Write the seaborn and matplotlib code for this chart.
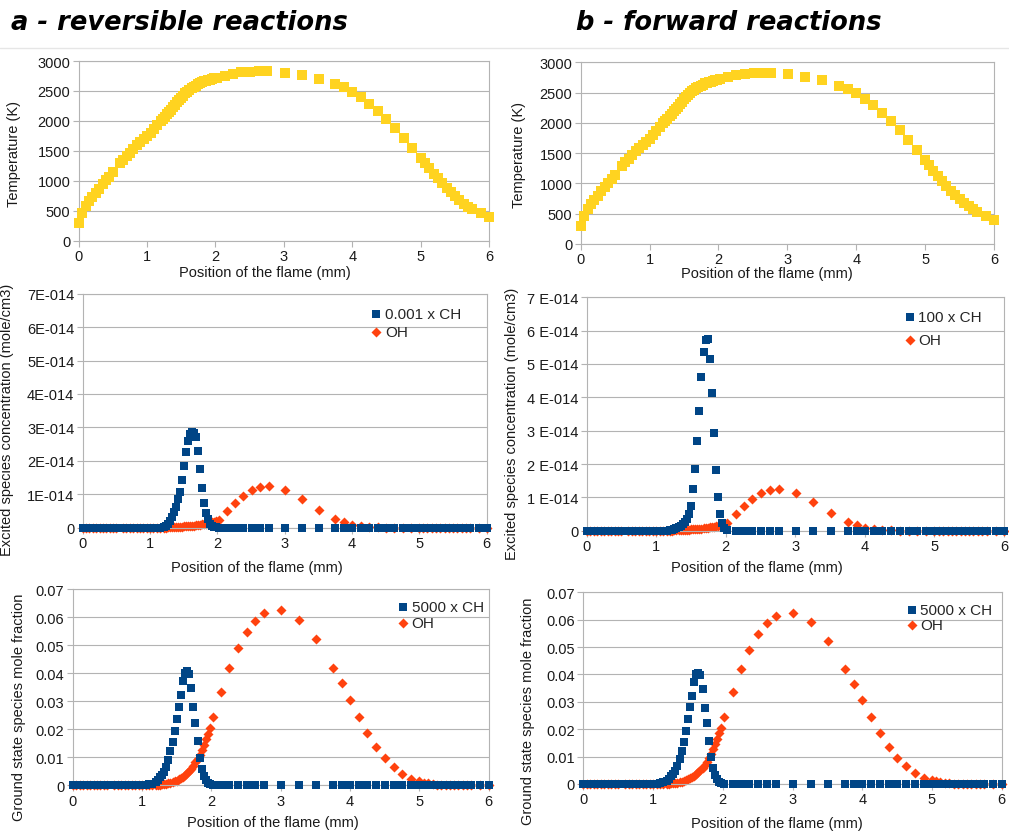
import matplotlib.pyplot as plt
import matplotlib.ticker as mticker
import seaborn as sns

# Flame positions (mm), shared by every series
x_mm = [0.0, 0.05, 0.1, 0.15, 0.2, 0.25, 0.3, 0.35, 0.4, 0.45, 0.5,
        0.6, 0.65, 0.7, 0.75, 0.8, 0.85, 0.9, 0.95, 1.0, 1.05, 1.1, 1.15, 1.2,
        1.23, 1.26, 1.29, 1.32, 1.35, 1.38, 1.41, 1.44, 1.47, 1.5, 1.53, 1.56, 1.59,
        1.62, 1.65, 1.68, 1.71, 1.74, 1.77, 1.8, 1.83, 1.86, 1.89, 1.92, 1.95, 1.98,
        2.02, 2.14, 2.26, 2.38, 2.51, 2.63, 2.76, 3.01, 3.26, 3.51, 3.75, 3.88, 4.0,
        4.13, 4.25, 4.38, 4.5, 4.63, 4.75, 4.88, 5.0,
        5.06, 5.12, 5.19, 5.25, 5.31, 5.38, 5.44, 5.5, 5.56, 5.63, 5.69, 5.75, 5.88, 6.0]

temperature_k = [300, 470, 580, 660, 730, 800, 870, 940, 1010, 1070, 1140,
                 1290, 1350, 1410, 1470, 1530, 1590, 1640, 1690, 1740, 1800, 1860, 1930, 2000,
                 2030, 2070, 2110, 2150, 2190, 2230, 2270, 2310, 2350, 2390, 2420, 2460, 2490,
                 2520, 2550, 2570, 2590, 2610, 2630, 2650, 2660, 2670, 2680, 2690, 2700, 2710,
                 2720, 2750, 2790, 2810, 2820, 2825, 2825, 2800, 2760, 2700, 2610, 2560, 2490,
                 2400, 2290, 2170, 2030, 1880, 1720, 1550, 1380,
                 1300, 1210, 1120, 1040, 960, 880, 810, 740, 680, 620, 570, 530, 470, 400]

# Excited species, in units of 1E-014 mole/cm3
ch_excited_rev = [0, 0, 0, 0, 0, 0, 0, 0, 0, 0, 0,
                  0, 0, 0, 0, 0, 0, 0, 0, 0, 0, 0, 0, 0.02,
                  0.05, 0.1, 0.2, 0.33, 0.48, 0.62, 0.85, 1.08, 1.44, 1.84, 2.26, 2.59, 2.8,
                  2.86, 2.84, 2.7, 2.3, 1.75, 1.2, 0.75, 0.45, 0.25, 0.12, 0.06, 0.02, 0.01,
                  0, 0, 0, 0, 0, 0, 0, 0, 0, 0, 0, 0, 0,
                  0, 0, 0, 0, 0, 0, 0, 0,
                  0, 0, 0, 0, 0, 0, 0, 0, 0, 0, 0, 0, 0, 0]
ch_excited_fwd = [0, 0, 0, 0, 0, 0, 0, 0, 0, 0, 0,
                  0, 0, 0, 0, 0, 0, 0, 0, 0, 0, 0, 0, 0.02,
                  0.03, 0.05, 0.07, 0.1, 0.14, 0.19, 0.26, 0.35, 0.5, 0.75, 1.25, 1.85, 2.7,
                  3.6, 4.6, 5.35, 5.73, 5.75, 5.15, 4.12, 2.93, 1.83, 1.01, 0.5, 0.22, 0.09,
                  0.03, 0, 0, 0, 0, 0, 0, 0, 0, 0, 0, 0, 0,
                  0, 0, 0, 0, 0, 0, 0, 0,
                  0, 0, 0, 0, 0, 0, 0, 0, 0, 0, 0, 0, 0, 0]
oh_excited = [0, 0, 0, 0, 0, 0, 0, 0, 0, 0, 0,
              0, 0, 0, 0, 0, 0, 0, 0, 0, 0, 0, 0, 0,
              0.005, 0.01, 0.012, 0.015, 0.02, 0.022, 0.025, 0.03, 0.035, 0.04, 0.045, 0.05, 0.055,
              0.06, 0.065, 0.075, 0.08, 0.09, 0.1, 0.11, 0.12, 0.13, 0.145, 0.16, 0.18, 0.2,
              0.24, 0.49, 0.73, 0.96, 1.14, 1.22, 1.26, 1.14, 0.86, 0.53, 0.26, 0.16, 0.09,
              0.04, 0.02, 0.01, 0.005, 0, 0, 0, 0,
              0, 0, 0, 0, 0, 0, 0, 0, 0, 0, 0, 0, 0, 0]

# Ground state mole fractions
ch_ground = [0, 0, 0, 0, 0, 0, 0, 0, 0, 0, 0,
             0, 0, 0, 0, 0, 0, 0, 0, 0, 0.0001, 0.0003, 0.0006, 0.0012,
             0.002, 0.0028, 0.0036, 0.0046, 0.0065, 0.0092, 0.0122, 0.0155, 0.0193, 0.0238,
             0.028, 0.0322, 0.0372, 0.0402, 0.0407, 0.0398, 0.0346, 0.0278, 0.0222, 0.0158,
             0.0098, 0.0058, 0.0034, 0.0018, 0.0009, 0.0004,
             0.0001, 0, 0, 0, 0, 0, 0, 0, 0, 0, 0, 0, 0,
             0, 0, 0, 0, 0, 0, 0, 0,
             0, 0, 0, 0, 0, 0, 0, 0, 0, 0, 0, 0, 0, 0]
oh_ground = [0, 0, 0, 0, 0, 0, 0, 0, 0, 0, 0,
             0, 0, 0, 0, 0, 0, 0, 0, 0, 0, 0, 0, 0,
             0.0001, 0.0002, 0.0003, 0.0004, 0.0005, 0.0007, 0.0009, 0.0011, 0.0014, 0.0017,
             0.0021, 0.0025, 0.003, 0.0036, 0.0043, 0.0051, 0.006, 0.007, 0.0082, 0.0095,
             0.011, 0.0126, 0.0145, 0.0165, 0.0185, 0.0205,
             0.0245, 0.0335, 0.042, 0.049, 0.0546, 0.0588, 0.0614, 0.0626, 0.0592, 0.0521,
             0.042, 0.0364, 0.0305, 0.0243, 0.0186, 0.0136, 0.0096, 0.0064, 0.004, 0.0023, 0.0014,
             0.001, 0.0007, 0.0004, 0.0002, 0.0001, 0, 0, 0, 0, 0, 0, 0, 0, 0]

BLUE, ORANGE, YELLOW, GRID = "#004586", "#ff420e", "#ffd320", "#b3b3b3"
XLABEL = "Position of the flame (mm)"

sns.set_theme(style="whitegrid")
plt.rcParams['font.family'] = ['Liberation Sans', 'DejaVu Sans']

W, H = 1009, 837
fig = plt.figure(figsize=(W / 100, H / 100), dpi=100)


def px_axes(l, r, t, b):
    return fig.add_axes([l / W, 1 - b / H, (r - l) / W, (b - t) / H])


def style(ax, ymax, ystep, xlab_pos, ylab_pos, ylabel, fmt=None):
    ax.set_xlim(0, 6)
    ax.set_ylim(0, ymax)
    ax.set_xticks(range(7))
    ax.set_yticks([i * ystep for i in range(int(round(ymax / ystep)) + 1)])
    if fmt is not None:
        ax.yaxis.set_major_formatter(mticker.FuncFormatter(fmt))
    ax.grid(axis='y', color=GRID, lw=0.8)
    ax.grid(axis='x', visible=False)
    for sp in ax.spines.values():
        sp.set_color(GRID)
        sp.set_linewidth(0.8)
    ax.tick_params(axis='both', which='both', length=4, width=0.8, color=GRID,
                   labelsize=10.5, labelcolor="#1a1a1a", pad=2, bottom=True, left=True)
    ax.set_xlabel(XLABEL, fontsize=10.5, color="#1a1a1a")
    ax.set_ylabel(ylabel, fontsize=10.5, color="#1a1a1a")
    ax.xaxis.set_label_coords(xlab_pos[0] / W, 1 - xlab_pos[1] / H, transform=fig.transFigure)
    ax.yaxis.set_label_coords(ylab_pos[0] / W, 1 - ylab_pos[1] / H, transform=fig.transFigure)
    ax.xaxis.label.set_va('center')
    ax.yaxis.label.set_va('center')


def legend(ax, x, y, spacing):
    ax.legend(loc='upper left', bbox_to_anchor=(x, y), frameon=False, fontsize=11,
              borderpad=0, borderaxespad=0, handlelength=0.8, handletextpad=0.15,
              labelspacing=spacing)


fmt_a = lambda v, p: "0" if v == 0 else f"{v:.0f}E-014"
fmt_b = lambda v, p: "0" if v == 0 else f"{v:.0f} E-014"
fmt_g = lambda v, p: "0" if v == 0 else f"{v:.2f}"

panels = [
    dict(temp=(78.7, 489, 62, 241.7), exc=(82.7, 486.7, 294.7, 528.7), gnd=(72.7, 488.7, 590.3, 786.3),
         ch_exc=ch_excited_rev, ch_lab="0.001 x CH", fmt=fmt_a,
         t_xl=(265, 273), t_yl=(14, 154), e_xl=(257, 568), e_yl=(7, 420), g_xl=(273, 823), g_yl=(19, 707),
         e_leg=(0.712, 0.945, 0.3), g_leg=(0.78, 0.945, 0.1)),
    dict(temp=(580.7, 994, 63.3, 245), exc=(586.7, 1004, 298.3, 531.7), gnd=(583.3, 1001.7, 593.3, 785),
         ch_exc=ch_excited_fwd, ch_lab="100 x CH", fmt=fmt_b,
         t_xl=(767, 274), t_yl=(519, 155), e_xl=(757, 568), e_yl=(512, 424), g_xl=(777, 824), g_yl=(528, 711),
         e_leg=(0.76, 0.945, 0.55), g_leg=(0.77, 0.945, 0.1)),
]

for p in panels:
    ax = px_axes(*p['temp'])
    sns.scatterplot(x=x_mm, y=temperature_k, marker='s', color=YELLOW, s=46, linewidth=0,
                    ax=ax, clip_on=False, zorder=3)
    style(ax, 3000, 500, p['t_xl'], p['t_yl'], "Temperature (K)")

    ax = px_axes(*p['exc'])
    sns.scatterplot(x=x_mm, y=p['ch_exc'], marker='s', color=BLUE, s=38, linewidth=0,
                    ax=ax, clip_on=False, zorder=3, label=p['ch_lab'])
    sns.scatterplot(x=x_mm, y=oh_excited, marker='D', color=ORANGE, s=26, linewidth=0,
                    ax=ax, clip_on=False, zorder=2, label="OH")
    style(ax, 7, 1, p['e_xl'], p['e_yl'], "Excited species concentration (mole/cm3)", p['fmt'])
    legend(ax, *p['e_leg'])

    ax = px_axes(*p['gnd'])
    sns.scatterplot(x=x_mm, y=ch_ground, marker='s', color=BLUE, s=38, linewidth=0,
                    ax=ax, clip_on=False, zorder=3, label="5000 x CH")
    sns.scatterplot(x=x_mm, y=oh_ground, marker='D', color=ORANGE, s=26, linewidth=0,
                    ax=ax, clip_on=False, zorder=2, label="OH")
    style(ax, 0.07, 0.01, p['g_xl'], p['g_yl'], "Ground state species mole fraction", fmt_g)
    legend(ax, *p['g_leg'])

title_font = dict(family='DejaVu Sans', weight='bold', style='italic', fontsize=18.5,
                  va='center', color='black')
fig.text(11 / W, 1 - 23 / H, "a - reversible reactions", **title_font)
fig.text(576 / W, 1 - 23 / H, "b - forward reactions", **title_font)
fig.add_artist(plt.Line2D([0, 1], [1 - 49 / H, 1 - 49 / H], color="#e6e6e6", lw=1))

fig.savefig("out.png", dpi=100)
